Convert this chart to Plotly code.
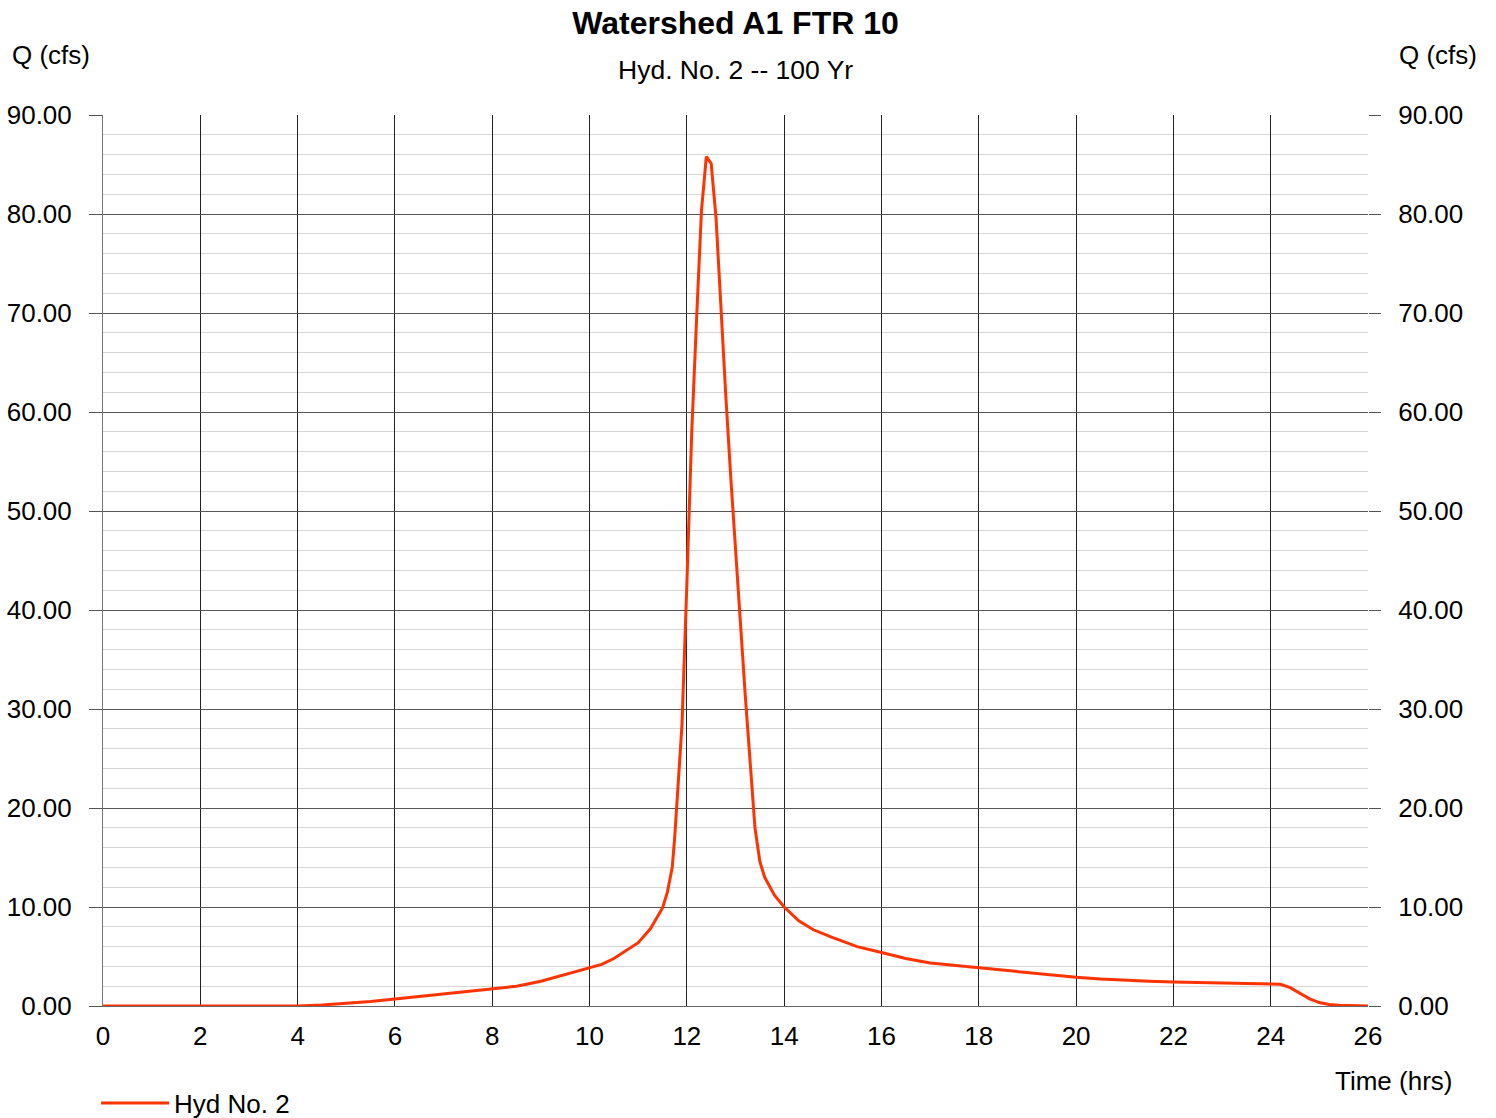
import plotly.graph_objects as go

# Hydrograph data (time in hrs, Q in cfs)
time_hrs = [0, 1, 2, 3, 4, 4.5, 5, 5.5, 6, 6.5, 7, 7.5, 8, 8.5, 9, 9.5, 10,
            10.25, 10.5, 10.75, 11, 11.25, 11.4, 11.5, 11.6, 11.7, 11.75, 11.8,
            11.9, 12.0, 12.1, 12.2, 12.3, 12.4, 12.5, 12.6, 12.7, 12.8, 12.9,
            13.0, 13.1, 13.2, 13.3, 13.4, 13.5, 13.6, 13.8, 14.0, 14.3, 14.6,
            15.0, 15.5, 16, 16.5, 17, 17.5, 18, 18.5, 19, 19.5, 20, 20.5, 21,
            21.5, 22, 22.5, 23, 23.5, 24, 24.2, 24.4, 24.6, 24.8, 25.0, 25.2,
            25.4, 25.7, 26]
q_cfs = [0, 0, 0, 0, 0, 0.1, 0.25, 0.45, 0.7, 0.95, 1.2, 1.45, 1.7, 2.0, 2.5, 3.15, 3.85,
         4.2, 4.8, 5.6, 6.4, 7.8, 9.0, 9.9, 11.5, 14.0, 17.0, 20.5,
         28.4, 42.6, 57.9, 69.4, 80.3, 85.8, 85.1, 79.6, 70.0, 61.7, 53.6,
         45.8, 38.3, 31.4, 24.7, 18.0, 14.6, 13.0, 11.2, 10.0, 8.6, 7.7,
         6.9, 6.0, 5.4, 4.8, 4.35, 4.1, 3.9, 3.65, 3.4, 3.15, 2.9, 2.72, 2.58,
         2.5, 2.42, 2.38, 2.35, 2.32, 2.28, 2.2, 1.85, 1.3, 0.72, 0.35, 0.15,
         0.07, 0.02, 0]

series_name = "Hyd No. 2"
chart_title = "Watershed A1 FTR 10"
chart_subtitle = "Hyd. No. 2 -- 100 Yr"
y_label = "Q (cfs)"
x_label = "Time (hrs)"

FONT = "Liberation Sans, Arial, Helvetica, sans-serif"

fig = go.Figure()
fig.add_trace(go.Scatter(x=time_hrs, y=q_cfs, mode="lines", name=series_name,
                         line=dict(color="#ff3300", width=3)))
# same series on the right-hand axis (invisible) so the mirrored axis is drawn
fig.add_trace(go.Scatter(x=time_hrs, y=q_cfs, mode="lines", yaxis="y2",
                         showlegend=False, hoverinfo="skip", opacity=0,
                         line=dict(color="#ff3300", width=0)))

fig.update_layout(
    width=1496, height=1118,
    margin=dict(l=103, r=128, t=115, b=112),
    paper_bgcolor="white", plot_bgcolor="white",
    font=dict(family=FONT, size=26, color="black"),
    title=dict(text="<b>" + chart_title + "</b>", x=0.5, xref="paper",
               y=1 - 23 / 1118, yref="container", yanchor="middle",
               font=dict(size=32, family=FONT, color="black")),
    showlegend=True,
    legend=dict(x=96 / 1496, xref="container", xanchor="left",
                y=1 - 1103 / 1118, yref="container", yanchor="middle",
                itemwidth=68, orientation="h", font=dict(size=26),
                bgcolor="rgba(0,0,0,0)"),
    xaxis=dict(range=[0, 26], tick0=0, dtick=2, showgrid=True, gridcolor="#222",
               gridwidth=1, showline=True, linecolor="#666", linewidth=1,
               ticks="", zeroline=False, ticklabelstandoff=7, automargin=False,
               tickfont=dict(size=26)),
    yaxis=dict(range=[0, 90], tick0=0, dtick=10, tickformat=".2f",
               showgrid=True, gridcolor="#555", gridwidth=1,
               minor=dict(dtick=2, showgrid=True, gridcolor="#d6d6d6", gridwidth=1),
               showline=True, linecolor="#777", linewidth=1,
               ticks="outside", ticklen=13, tickcolor="#555", automargin=False,
               zeroline=False, ticklabelstandoff=12, tickfont=dict(size=26)),
    yaxis2=dict(range=[0, 90], tick0=0, dtick=10, tickformat=".2f",
                overlaying="y", side="right", showgrid=False,
                ticks="outside", ticklen=12, tickcolor="#555", automargin=False,
                showline=False, zeroline=False, ticklabelstandoff=12,
                tickfont=dict(size=26)),
    annotations=[
        dict(text=chart_subtitle, xref="paper", yref="paper", x=0.5,
             y=(1006 - 70) / 891, xanchor="center", yanchor="middle",
             showarrow=False, font=dict(size=26.5)),
        dict(text=y_label, xref="paper", yref="paper", x=(10 - 103) / 1265,
             y=(1006 - 55) / 891, xanchor="left", yanchor="middle",
             showarrow=False, font=dict(size=26)),
        dict(text=y_label, xref="paper", yref="paper", x=(1479 - 103) / 1265,
             y=(1006 - 55) / 891, xanchor="right", yanchor="middle",
             showarrow=False, font=dict(size=26)),
        dict(text=x_label, xref="paper", yref="paper", x=(1454 - 103) / 1265,
             y=(1006 - 1081) / 891, xanchor="right", yanchor="middle",
             showarrow=False, font=dict(size=26)),
    ],
)

fig.write_html("out.html")
